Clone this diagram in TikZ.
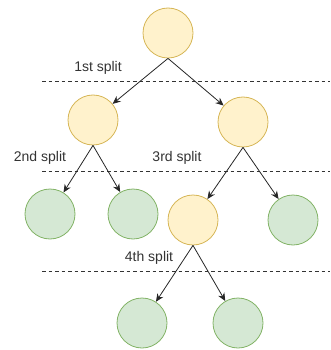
\documentclass[tikz,border=0pt]{standalone}
\usepackage{fontspec}
\setmainfont{Liberation Sans}
\usetikzlibrary{arrows.meta}
\definecolor{yfill}{HTML}{FFF2CC}
\definecolor{ydraw}{HTML}{D6B656}
\definecolor{gfill}{HTML}{D5E8D4}
\definecolor{gdraw}{HTML}{82B366}
\definecolor{txt}{HTML}{333333}
\begin{document}
\begin{tikzpicture}[x=1pt,y=-1pt,
  yel/.style={circle,draw=ydraw,fill=yfill,minimum size=50pt,inner sep=0pt,line width=0.8pt},
  grn/.style={circle,draw=gdraw,fill=gfill,minimum size=50pt,inner sep=0pt,line width=0.8pt},
  arr/.style={-{Stealth[length=8pt,width=7pt]},line width=0.8pt,draw=black!85},
  split/.style={dash pattern=on 3.5pt off 3pt,line width=1pt,draw=black!80},
  lbl/.style={font=\fontsize{14}{16}\selectfont,text=txt,inner sep=0pt}]
\useasboundingbox (0,0) rectangle (330,350);
% dashed lines
\coordinate (d1a) at (42,82); \coordinate (d1b) at (330,82);
\coordinate (d2a) at (42,171); \coordinate (d2b) at (330,171);
\coordinate (d3a) at (42,271); \coordinate (d3b) at (330,271);
\draw[split] (d1a) -- (d1b);
\draw[split] (d2a) -- (d2b);
\draw[split] (d3a) -- (d3b);
% labels
\node[lbl] (s1) at (98,68) {1st split};
\node[lbl] (s2) at (40,158) {2nd split};
\node[lbl] (s3) at (177,158) {3rd split};
\node[lbl] (s4) at (149,258) {4th split};
% nodes
\node[yel] (root) at (168,33) {};
\node[yel] (a) at (93,120) {};
\node[yel] (b) at (243,122) {};
\node[grn] (c) at (50,214) {};
\node[grn] (d) at (133,214) {};
\node[yel] (e) at (193,220) {};
\node[grn] (f) at (293,220) {};
\node[grn] (g) at (142,323) {};
\node[grn] (h) at (238,323) {};
% arrows
\draw[arr] (root.south) -- (a);
\draw[arr] (root.south) -- (b);
\draw[arr] (a.south) -- (c);
\draw[arr] (a.south) -- (d);
\draw[arr] (b.south) -- (e);
\draw[arr] (b.south) -- (f);
\draw[arr] (e.south) -- (g);
\draw[arr] (e.south) -- (h);
\end{tikzpicture}
\end{document}
